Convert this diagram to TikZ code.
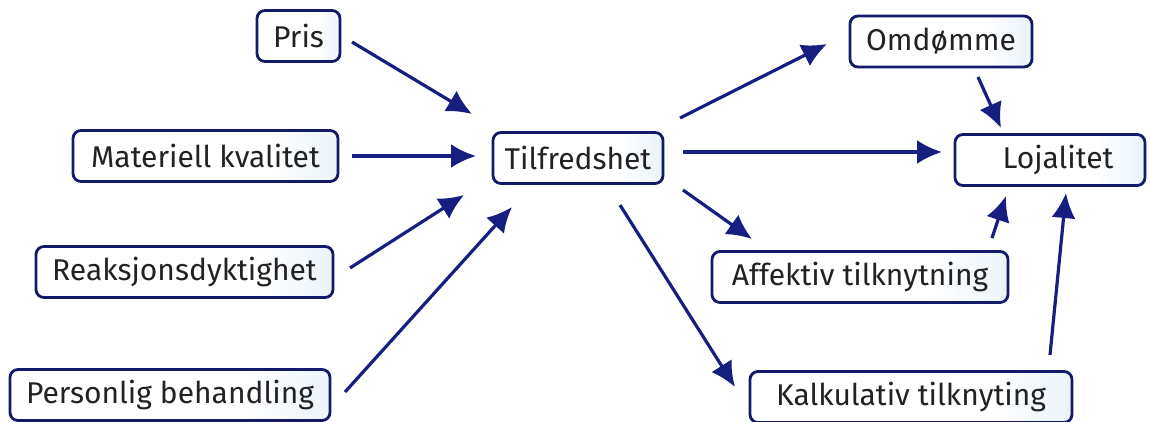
\documentclass[tikz,border=0pt]{standalone}
\usepackage{fontspec}
\setmainfont{Fira Sans}
\usetikzlibrary{arrows.meta}
\definecolor{navy}{RGB}{18,26,105}
\definecolor{arrowblue}{RGB}{22,30,128}
\definecolor{boxtint}{RGB}{196,221,240}
\definecolor{ink}{RGB}{34,34,36}
% horizontal fill: white on the left, pale blue towards the right
\pgfdeclarehorizontalshading{boxfade}{100bp}{
  color(0bp)=(white); color(62bp)=(white); color(100bp)=(boxtint)}
\tikzset{
  factor/.style={draw=navy, line width=2.8pt, rounded corners=8pt,
    shading=boxfade,
    text=ink, font=\fontsize{30}{34}\selectfont, inner sep=0pt,
    minimum height=51pt},
  arr/.style={draw=arrowblue, line width=3.2pt,
    -{Latex[length=25pt,width=24pt]}}
}
\begin{document}
\begin{tikzpicture}[x=1pt,y=-1pt]
\useasboundingbox (0,0) rectangle (1150,421);
% driver boxes on the left
\node[factor, minimum width=83pt]  (pris) at (298.5,36)  {Pris};
\node[factor, minimum width=265pt] (mat)  at (205.5,156) {Materiell kvalitet};
\node[factor, minimum width=297pt] (rea)  at (184.5,272) {Reaksjonsdyktighet};
\node[factor, minimum width=320pt] (per)  at (170,395)   {Personlig behandling};
% central node
\node[factor, minimum width=170pt] (tilf) at (578,158)   {Tilfredshet};
% outcome boxes on the right
\node[factor, minimum width=182pt] (omd)  at (941,41.5)  {Omdømme};
\node[factor, minimum width=190pt] (loj)  at (1050,160)  {\hspace*{16pt}Lojalitet};
\node[factor, minimum width=296pt] (aff)  at (860,277)   {Affektiv tilknytning};
\node[factor, minimum width=322pt] (kal)  at (911,397)   {Kalkulativ tilknyting};

% arrow end points
\coordinate (prisA) at (352,42);   \coordinate (prisB) at (472,114);
\coordinate (matA)  at (352,156);  \coordinate (matB)  at (476,156);
\coordinate (reaA)  at (350,268);  \coordinate (reaB)  at (464,195);
\coordinate (perA)  at (345,392);  \coordinate (perB)  at (512,207);
\coordinate (omdA)  at (680,118);  \coordinate (omdB)  at (827,44);
\coordinate (lojA)  at (683,152);  \coordinate (lojB)  at (942,152);
\coordinate (affA)  at (683,190);  \coordinate (affB)  at (752,239);
\coordinate (kalA)  at (620,205);  \coordinate (kalB)  at (735,387);
\coordinate (omlA)  at (978,77);   \coordinate (omlB)  at (1001,128);
\coordinate (aflA)  at (992,238);  \coordinate (aflB)  at (1006,196);
\coordinate (kllA)  at (1050,355); \coordinate (kllB)  at (1066,193);

\draw[arr] (prisA) -- (prisB);
\draw[arr] (matA) -- (matB);
\draw[arr] (reaA) -- (reaB);
\draw[arr] (perA) -- (perB);
\draw[arr] (omdA) -- (omdB);
\draw[arr] (lojA) -- (lojB);
\draw[arr] (affA) -- (affB);
\draw[arr] (kalA) -- (kalB);
\draw[arr] (omlA) -- (omlB);
\draw[arr] (aflA) -- (aflB);
\draw[arr] (kllA) -- (kllB);
\end{tikzpicture}
\end{document}
